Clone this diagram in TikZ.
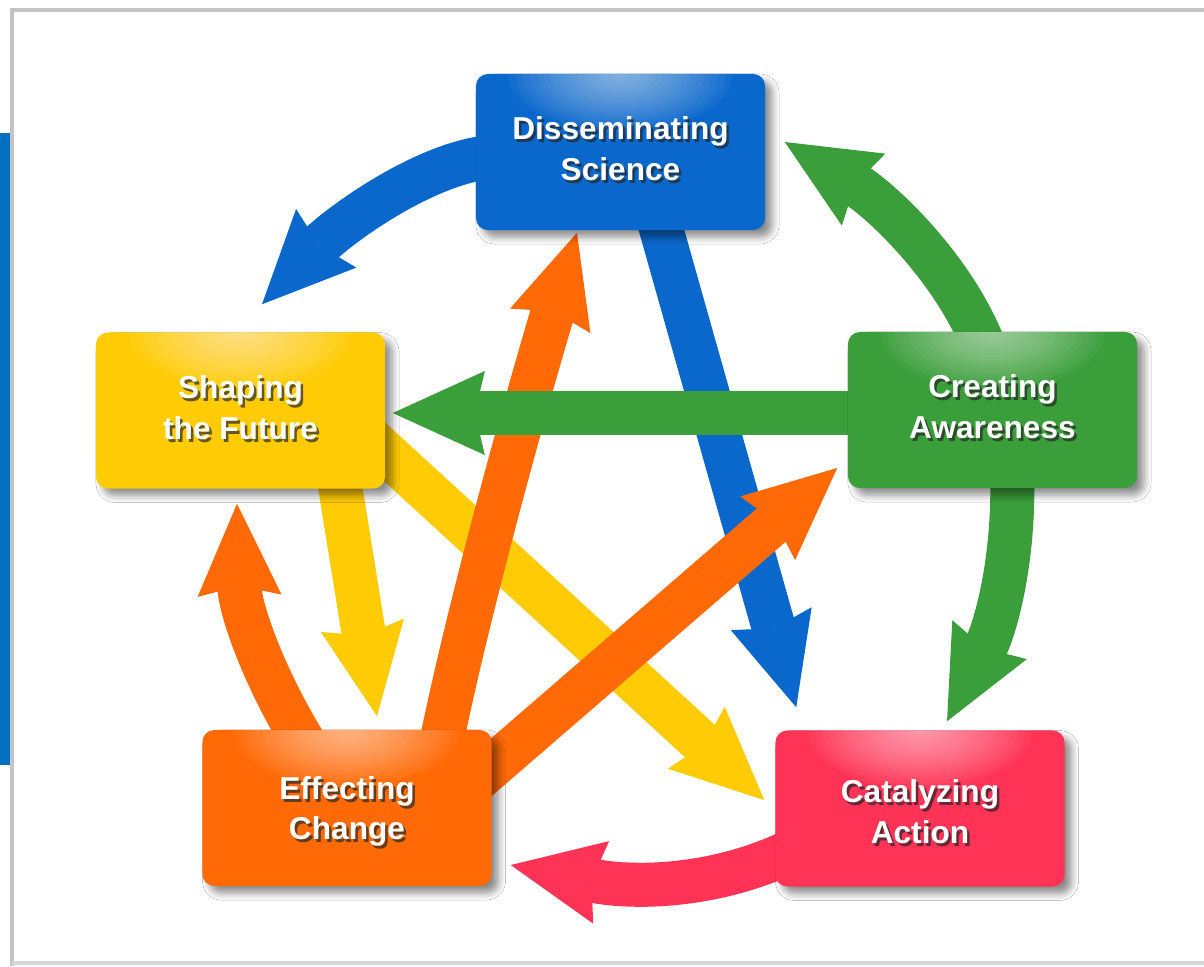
\documentclass[tikz,border=0pt]{standalone}
\usepackage{fontspec}
\setmainfont{Liberation Sans}
\usetikzlibrary{arrows.meta,backgrounds,shadows.blur}
\definecolor{dsblue}{HTML}{0A68CC}
\definecolor{awgreen}{HTML}{3A9E3A}
\definecolor{sfyellow}{HTML}{FECB05}
\definecolor{ecorange}{HTML}{FF6A06}
\definecolor{capink}{HTML}{FF3355}
\definecolor{sidebar}{HTML}{0070C0}
\definecolor{framegray}{HTML}{C4C4C4}
\tikzset{
  stagebox/.style={draw=none, rounded corners=0.12cm, minimum width=2.89cm, minimum height=1.56cm,
                   fill=#1, blur shadow={shadow xshift=0.07cm, shadow yshift=-0.07cm,
                                         shadow blur radius=0.07cm, shadow opacity=45,
                                         shadow blur steps=6},
                   path picture={\foreach \r in {1,...,16}
                     \fill[white, opacity=0.045] (path picture bounding box.north)
                       ellipse [x radius=0.07cm*\r, y radius=0.036cm*\r];}},
  stagetext/.style={text=white, align=center, inner sep=0pt,
                    font=\fontsize{9}{11.5}\selectfont\bfseries},
  flow/.style={line width=0.44cm,
               -{Stealth[length=0.92cm, width=0.84cm, inset=0.1cm, line width=0pt]}},
}
\newcommand{\stage}[5][0]{%
  \node[stagebox=#4] (#2) at (#3) {};
  \node[stagetext, text=black!85, opacity=0.7] at ([shift={(2.5,#1+3)}]#2.center) {#5};
  \node[stagetext] (#2-label) at ([shift={(0,#1)}]#2.center) {#5};
}

\begin{document}
\begin{tikzpicture}[x=0.01cm, y=-0.01cm]
  \useasboundingbox (0,0) rectangle (1204,966);

  \stage[-3.5]{dis}{620.5,152}{dsblue}{Disseminating\\Science}
  \stage[-3.5]{cre}{992.5,410}{awgreen}{Creating\\Awareness}
  \stage[-3]{sha}{240.5,410.5}{sfyellow}{Shaping\\the Future}
  \stage[3.5]{eff}{347,808}{ecorange}{Effecting\\Change}
  \stage[3]{cat}{920,808.5}{capink}{Catalyzing\\Action}

  \begin{scope}[on background layer]
    % page frame
    \fill[white] (0,0) rectangle (1204,966);
    \fill[sidebar] (0,133) rectangle (11,765);
    \draw[framegray, line width=1.2pt] (12,966) -- (12,10) -- (1204,10);
    \draw[framegray!70, line width=1pt] (12,963) -- (1204,963);

    % yellow
    \draw[flow, sfyellow] ([shift={(95.5,-28.5)}]sha.south) -- ([shift={(30,-13)}]eff.north);
    \draw[flow, sfyellow] ([shift={(-25,19.5)}]sha.east) -- ([shift={(-10.5,-8.5)}]cat.west);
    % blue
    \draw[flow, dsblue] ([shift={(14,5)}]dis.west) .. controls +(-70,8) and +(73,-75)
      .. ([shift={(21.5,-27.5)}]sha.north);
    \draw[flow, dsblue] ([shift={(33.5,-27)}]dis.south) -- ([shift={(21.5,-22.5)}]cat.north west);
    % orange
    \draw[flow, ecorange] ([shift={(-42,15)}]eff.north) .. controls +(-40,-65) and +(3,107)
      .. ([shift={(-3.5,14.5)}]sha.south);
    \draw[flow, ecorange] ([shift={(93,20)}]eff.north) .. controls +(30,-150) and +(-42,138)
      .. ([shift={(-43.5,2)}]dis.south);
    \draw[flow, ecorange] ([shift={(-21.5,-23)}]eff.east) -- ([shift={(-10,58)}]cre.west);
    % green
    \draw[flow, awgreen] ([shift={(-7.5,18)}]cre.north) .. controls +(-30,-80) and +(96,58)
      .. ([shift={(19,-10)}]dis.east);
    \draw[flow, awgreen] ([shift={(22,3)}]cre.west) -- ([shift={(7,2.5)}]sha.east);
    \draw[flow, awgreen] ([shift={(19.5,-18)}]cre.south) .. controls +(3,90) and +(48,-92)
      .. ([shift={(27,-8.5)}]cat.north);
    % red
    \draw[flow, capink] ([shift={(14.5,43.5)}]cat.west) .. controls +(-70,33) and +(130,25)
      .. ([shift={(18.5,57)}]eff.east);
  \end{scope}
\end{tikzpicture}
\end{document}
